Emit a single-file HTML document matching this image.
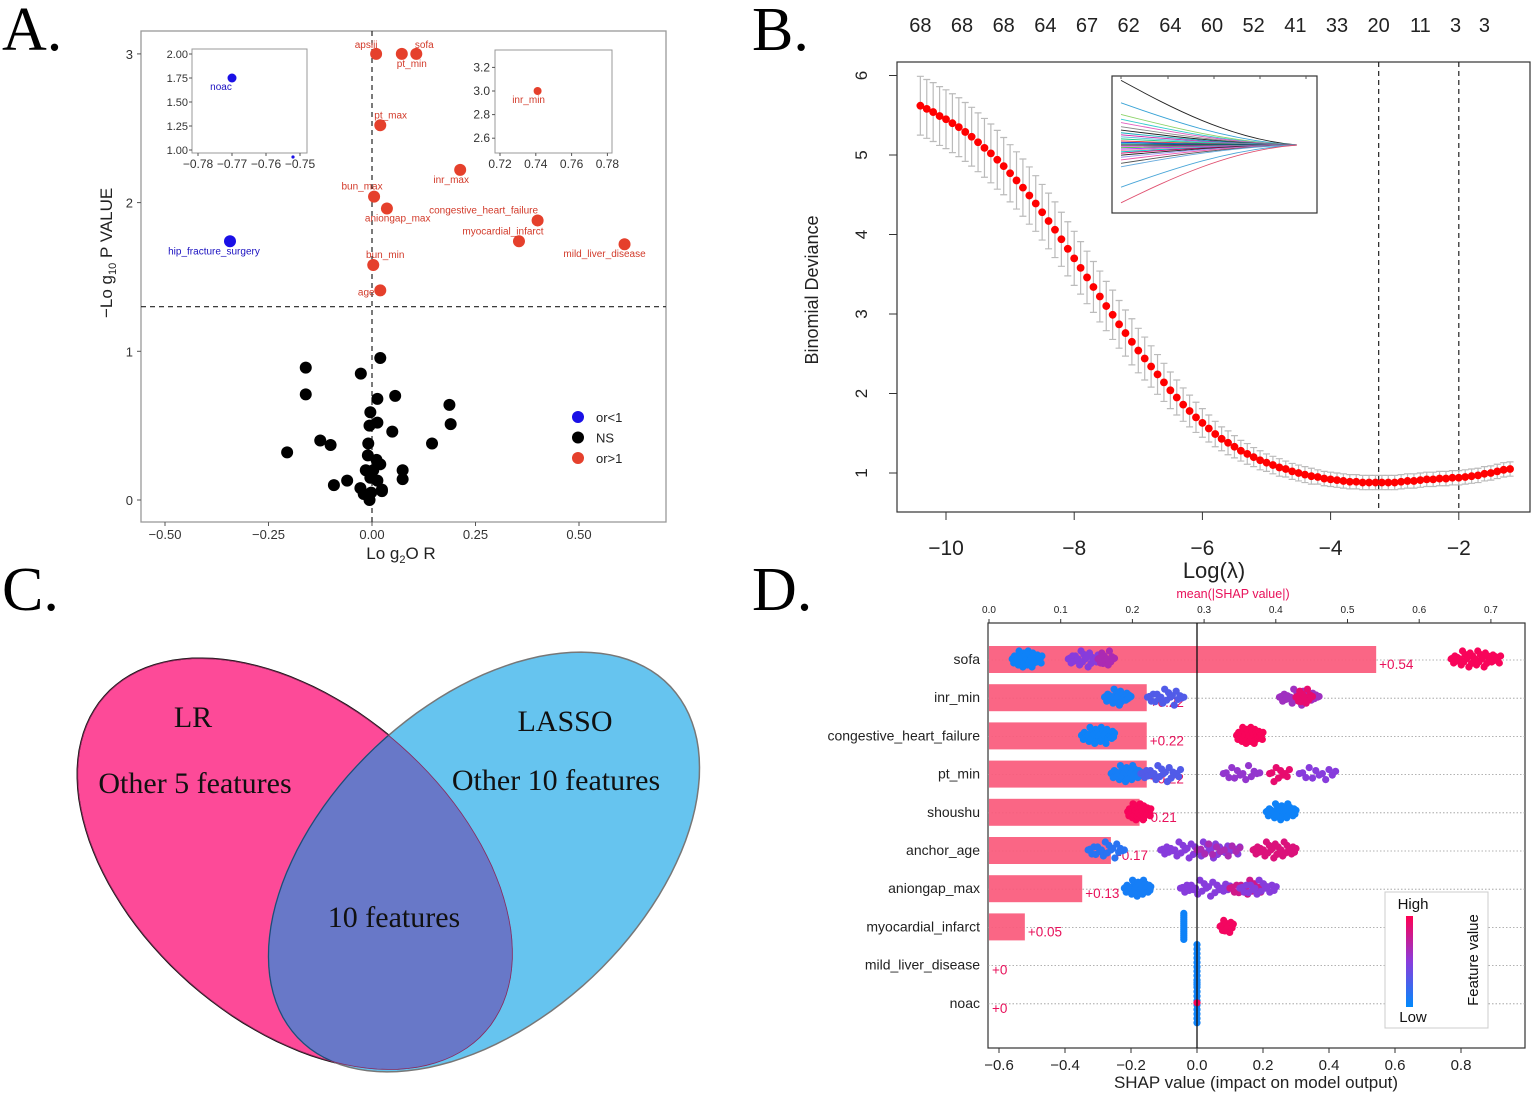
<!DOCTYPE html>
<html><head><meta charset="utf-8">
<style>
html,body{margin:0;padding:0;background:#fff;width:1535px;height:1098px;overflow:hidden;}
svg{display:block;width:1535px;height:1098px;}
.n{font-family:"Liberation Sans Narrow","Liberation Sans",sans-serif;}
.s{font-family:"Liberation Sans",sans-serif;}
.r{font-family:"Liberation Serif",serif;}
</style></head>
<body>
<svg id="fig" width="1535" height="1098" viewBox="0 0 1535 1098" xmlns="http://www.w3.org/2000/svg">
<g class="r" font-size="62" fill="#000">
<text x="2" y="50">A.</text>
<text x="752" y="50">B.</text>
<text x="2" y="610">C.</text>
<text x="752" y="610">D.</text>
</g>
<g id="pa"></g>
<g id="pb"></g>
<g id="pc"></g>
<g id="pd"></g>
</svg>
<script>
const NS="http://www.w3.org/2000/svg";
function mk(p,tag,attrs,txt){const e=document.createElementNS(NS,tag);for(const k in attrs)e.setAttribute(k,attrs[k]);if(txt!==undefined)e.textContent=txt;p.appendChild(e);return e;}

/* ---------- Panel A data ---------- */
const sigNames=["apsiii","pt_min","sofa","pt_max","inr_max","bun_max","aniongap_max","congestive_heart_failure","myocardial_infarct","mild_liver_disease","bun_min","age","hip_fracture_surgery"];
const sigLogOR=[0.01,0.072,0.107,0.02,0.213,0.005,0.036,0.40,0.355,0.61,0.003,0.02,-0.343];
const sigNegLogP=[3.0,3.0,3.0,2.52,2.22,2.04,1.96,1.88,1.74,1.72,1.58,1.41,1.74];
const sigGroup=["or>1","or>1","or>1","or>1","or>1","or>1","or>1","or>1","or>1","or>1","or>1","or>1","or<1"];
const nsLogOR=[-0.16,-0.16,-0.027,0.02,0.013,0.056,0.187,0.19,-0.004,-0.006,0.013,0.049,-0.125,-0.1,0.145,-0.205,-0.009,-0.01,0.011,0.02,-0.015,0.003,0.074,0.074,-0.004,0.013,-0.06,-0.092,-0.028,0.024,0.024,-0.02,-0.006,-0.002];
const nsNegLogP=[0.89,0.71,0.85,0.955,0.68,0.70,0.64,0.51,0.59,0.50,0.52,0.46,0.40,0.37,0.38,0.32,0.38,0.30,0.27,0.24,0.2,0.2,0.2,0.14,0.15,0.13,0.13,0.1,0.08,0.07,0.06,0.04,0.0,0.05];
const aXTicks=[-0.5,-0.25,0,0.25,0.5];
const aXTickLabels=["\u22120.50","\u22120.25","0.00","0.25","0.50"];
const aYTicks=[0,1,2,3];
const inset1YTicks=[1.00,1.25,1.50,1.75,2.00];
const inset1XTicks=[-0.78,-0.77,-0.76,-0.75];
const inset1Names=["noac"];const inset1X=[-0.77];const inset1Y=[1.75];
const inset2YTicks=[2.6,2.8,3.0,3.2];
const inset2XTicks=[0.72,0.74,0.76,0.78];
const inset2Names=["inr_min"];const inset2X=[0.741];const inset2Y=[3.0];

(function(){
const g=document.getElementById('pa');
const xA=v=>372+v*414, yA=v=>500-v*148.7;
const fr=mk(g,'rect',{x:141,y:31,width:525,height:491,fill:'none',stroke:'#999','stroke-width':1.3});

aXTicks.forEach((t,i)=>{mk(g,'line',{x1:xA(t),x2:xA(t),y1:522,y2:526,stroke:'#555'});
 const tx=mk(g,'text',{x:xA(t),y:539,'text-anchor':'middle','font-size':13,fill:'#333',class:'n'},aXTickLabels[i]);
 });
aYTicks.forEach(t=>{mk(g,'line',{x1:137,x2:141,y1:yA(t),y2:yA(t),stroke:'#555'});
 const tx=mk(g,'text',{x:133,y:yA(t)+5,'text-anchor':'end','font-size':13,fill:'#333',class:'n'},t);
 });
mk(g,'line',{x1:141,x2:666,y1:yA(1.3),y2:yA(1.3),stroke:'#222','stroke-dasharray':'5,4','stroke-width':1.2});
mk(g,'line',{x1:xA(0),x2:xA(0),y1:31,y2:522,stroke:'#222','stroke-dasharray':'5,4','stroke-width':1.2});
const xt=mk(g,'text',{x:401,y:559,'text-anchor':'middle','font-size':17,fill:'#222',class:'n'});
xt.innerHTML='Lo g<tspan font-size="11" dy="4">2</tspan><tspan dy="-4">O R</tspan>';

const yt=mk(g,'text',{transform:'translate(112,318) rotate(-90)','font-size':17,fill:'#222',class:'n'});
yt.innerHTML='\u2212Lo g<tspan font-size="11" dy="4">10</tspan><tspan dy="-4"> P VALUE</tspan>';

nsLogOR.forEach((v,i)=>{const c=mk(g,'circle',{cx:xA(v),cy:yA(nsNegLogP[i]),r:6,fill:'#000'});
 });
const off={apsiii:[-10,-6,'middle'],pt_min:[-5,13,'start'],sofa:[8,-6,'middle'],pt_max:[-6,-7,'start'],inr_max:[-9,13,'middle'],bun_max:[-12,-7,'middle'],aniongap_max:[-22,13,'start'],congestive_heart_failure:[-54,-7,'middle'],myocardial_infarct:[-16,-7,'middle'],mild_liver_disease:[-20,13,'middle'],bun_min:[12,-7,'middle'],age:[-14,5,'middle'],hip_fracture_surgery:[-16,13,'middle']};
sigLogOR.forEach((v,i)=>{const col=sigGroup[i]==='or<1'?'#1a10e6':'#e5402c';const cx=xA(v),cy=yA(sigNegLogP[i]);
 const c=mk(g,'circle',{cx:cx,cy:cy,r:6,fill:col});
 const o=off[sigNames[i]];
 const t=mk(g,'text',{x:cx+o[0],y:cy+o[1],'text-anchor':o[2],'font-size':10,fill:sigGroup[i]==='or<1'?'#1a10c0':'#d23a2a',class:'n'},sigNames[i]);
 });
const i1=mk(g,'g',{});
mk(i1,'rect',{x:192,y:49,width:115,height:104,fill:'#fff',stroke:'#999'});
const x1=v=>232+(v+0.77)*3400, y1=v=>150-(v-1)*96;
inset1YTicks.forEach(t=>{mk(i1,'line',{x1:189,x2:192,y1:y1(t),y2:y1(t),stroke:'#555'});mk(i1,'text',{x:188,y:y1(t)+4,'text-anchor':'end','font-size':11,fill:'#333',class:'n'},t.toFixed(2));});
inset1XTicks.forEach(t=>{mk(i1,'line',{x1:x1(t),x2:x1(t),y1:153,y2:156,stroke:'#555'});mk(i1,'text',{x:x1(t),y:168,'text-anchor':'middle','font-size':12,fill:'#333',class:'n'},'\u2212'+Math.abs(t).toFixed(2));});
inset1X.forEach((v,i)=>{mk(i1,'circle',{cx:x1(v),cy:y1(inset1Y[i]),r:4.5,fill:'#1a10e6'});mk(i1,'text',{x:x1(v)-11,y:y1(inset1Y[i])+12,'text-anchor':'middle','font-size':10,fill:'#1a10c0',class:'n'},inset1Names[i]);});
mk(i1,'circle',{cx:293,cy:157,r:1.6,fill:'#1a10e6'});
const i2=mk(g,'g',{});
mk(i2,'rect',{x:495,y:50,width:117,height:103,fill:'#fff',stroke:'#999'});
const x2=v=>500+(v-0.72)*1790, y2=v=>91-(v-3)*118;
inset2YTicks.forEach(t=>{mk(i2,'line',{x1:492,x2:495,y1:y2(t),y2:y2(t),stroke:'#555'});mk(i2,'text',{x:490,y:y2(t)+4,'text-anchor':'end','font-size':12,fill:'#333',class:'n'},t.toFixed(1));});
inset2XTicks.forEach(t=>{mk(i2,'line',{x1:x2(t),x2:x2(t),y1:153,y2:156,stroke:'#555'});mk(i2,'text',{x:x2(t),y:168,'text-anchor':'middle','font-size':12,fill:'#333',class:'n'},t.toFixed(2));});
inset2X.forEach((v,i)=>{mk(i2,'circle',{cx:x2(v),cy:y2(inset2Y[i]),r:4,fill:'#e5402c'});mk(i2,'text',{x:x2(v)-9,y:y2(inset2Y[i])+12,'text-anchor':'middle','font-size':10,fill:'#d23a2a',class:'n'},inset2Names[i]);});
const lg=mk(g,'g',{});
[['or<1','#1a10e6'],['NS','#000'],['or>1','#e5402c']].forEach((d,i)=>{mk(lg,'circle',{cx:578,cy:417+i*20.5,r:6,fill:d[1]});mk(lg,'text',{x:596,y:422+i*20.5,'font-size':13,fill:'#222',class:'n'},d[0]);});
})();

/* ---------- Panel B data ---------- */
const bLogLambdaStart=-10.4, bLogLambdaStep=0.1;
const bDeviance=[5.62,5.58,5.54,5.49,5.45,5.40,5.35,5.29,5.23,5.16,5.09,5.02,4.94,4.86,4.77,4.68,4.59,4.49,4.39,4.28,4.17,4.06,3.94,3.82,3.70,3.58,3.46,3.34,3.22,3.10,2.99,2.87,2.76,2.65,2.54,2.44,2.34,2.24,2.14,2.04,1.95,1.86,1.78,1.70,1.63,1.56,1.49,1.43,1.38,1.33,1.28,1.24,1.20,1.16,1.13,1.10,1.07,1.05,1.02,1.00,0.98,0.96,0.95,0.93,0.92,0.91,0.90,0.89,0.89,0.88,0.88,0.88,0.88,0.88,0.88,0.89,0.90,0.90,0.91,0.92,0.92,0.93,0.93,0.94,0.94,0.95,0.96,0.97,0.99,1.00,1.02,1.04,1.05];
const bSE=[0.37,0.37,0.37,0.37,0.37,0.37,0.37,0.37,0.37,0.37,0.37,0.37,0.37,0.36,0.36,0.36,0.36,0.36,0.35,0.35,0.35,0.35,0.34,0.34,0.34,0.33,0.33,0.32,0.32,0.31,0.31,0.30,0.29,0.29,0.28,0.27,0.26,0.25,0.24,0.23,0.22,0.21,0.20,0.19,0.18,0.17,0.16,0.15,0.15,0.14,0.13,0.13,0.12,0.12,0.11,0.11,0.11,0.10,0.10,0.10,0.10,0.10,0.09,0.09,0.09,0.09,0.09,0.09,0.09,0.09,0.09,0.09,0.09,0.09,0.09,0.09,0.09,0.09,0.09,0.09,0.09,0.09,0.09,0.09,0.09,0.09,0.09,0.09,0.09,0.09,0.09,0.09,0.09];
const bNonzero=["68","68","68","64","67","62","64","60","52","41","33","20","11","3","3"];
const bNonzeroAt=[-10.4,-9.75,-9.1,-8.45,-7.8,-7.15,-6.5,-5.85,-5.2,-4.55,-3.9,-3.25,-2.6,-2.05,-1.6];
const bXTicks=[-10,-8,-6,-4,-2];
const bYTicks=[1,2,3,4,5,6];
const bLambdaMin=-3.25, bLambda1se=-2.0;
const bCoefStart=[-0.95,-0.62,-0.45,-0.38,-0.33,-0.27,-0.22,-0.18,-0.15,-0.12,-0.09,-0.06,-0.04,-0.02,0,0.02,0.04,0.06,0.08,0.1,0.12,0.15,0.18,0.22,0.27,0.32,0.62,0.85];
const bCoefColors=["#222","#39a3d6","#8dd36a","#3cc","#e060c0","#888","#222","#1ab","#c2a","#5bd","#2c8","#e33","#13c","#0aa","#222","#d4d","#4b4","#a3e","#e8a","#0cc","#c06","#222","#99e","#e5a","#555","#6ad","#4aa6d8","#e05070"];

(function(){
const g=document.getElementById('pb');
const xB=v=>946+(v+10)*64.1, yB=v=>473-(v-1)*79.5;
const fr=mk(g,'rect',{x:897,y:62,width:633,height:450,fill:'none',stroke:'#333','stroke-width':1.2});

bXTicks.forEach(t=>{mk(g,'line',{x1:xB(t),x2:xB(t),y1:512,y2:520,stroke:'#333'});
 const tx=mk(g,'text',{x:xB(t),y:555,'text-anchor':'middle','font-size':21,fill:'#222',class:'n'},'\u2212'+Math.abs(t));
 });
bYTicks.forEach(t=>{mk(g,'line',{x1:889,x2:897,y1:yB(t),y2:yB(t),stroke:'#333'});
 const tx=mk(g,'text',{transform:`translate(867,${yB(t)}) rotate(-90)`,'text-anchor':'middle','font-size':17,fill:'#222',class:'s'},t);
 });
bNonzero.forEach((s,i)=>{const tx=mk(g,'text',{x:xB(bNonzeroAt[i]),y:32,'text-anchor':'middle','font-size':20,fill:'#222',class:'n'},s);
 });
const yt=mk(g,'text',{transform:'translate(818,290) rotate(-90)','text-anchor':'middle','font-size':18,fill:'#222',class:'s'},'Binomial Deviance');

const xt=mk(g,'text',{x:1214,y:578,'text-anchor':'middle','font-size':22,fill:'#222',class:'n'},'Log(\u03bb)');

[bLambdaMin,bLambda1se].forEach(l=>{const ln=mk(g,'line',{x1:xB(l),x2:xB(l),y1:62,y2:512,stroke:'#222','stroke-dasharray':'5,4','stroke-width':1.2});
 });
bDeviance.forEach((d,i)=>{const l=bLogLambdaStart+i*bLogLambdaStep;const x=xB(l);
 const eb=mk(g,'path',{d:`M${x},${yB(d+bSE[i])}V${yB(d-bSE[i])}M${x-3.5},${yB(d+bSE[i])}H${x+3.5}M${x-3.5},${yB(d-bSE[i])}H${x+3.5}`,stroke:'#bbb','stroke-width':1.2,fill:'none'});
 });
bDeviance.forEach((d,i)=>{const l=bLogLambdaStart+i*bLogLambdaStep;
 const c=mk(g,'circle',{cx:xB(l),cy:yB(d),r:3.9,fill:'#f00'});});
const ins=mk(g,'g',{});
mk(ins,'rect',{x:1112,y:76,width:205,height:137,fill:'#fff',stroke:'#333','stroke-width':1.2});
[1121,1168,1214,1260,1306].forEach(x=>mk(ins,'line',{x1:x,x2:x,y1:76,y2:79,stroke:'#555'}));
const cy0=145;
bCoefStart.forEach((v,i)=>{const y0=cy0+v*68;
 const p=mk(ins,'path',{d:`M1121,${y0} C1170,${cy0+v*40} 1230,${cy0+v*6} 1297,${cy0}`,fill:'none',stroke:bCoefColors[i],'stroke-width':0.9});
 });
})();

/* ---------- Panel C ---------- */
(function(){
const g=document.getElementById('pc');
function ell(cx,cy,rx,ry,deg){const th=deg*Math.PI/180,c=Math.cos(th),s=Math.sin(th);let d='';
 for(let k=0;k<=120;k++){const t=k/120*2*Math.PI;const ex=rx*Math.cos(t),ey=ry*Math.sin(t);
  const x=cx+ex*c-ey*s,y=cy+ex*s+ey*c;d+=(k?'L':'M')+x.toFixed(1)+','+y.toFixed(1);}return d+'Z';}
const pd=ell(295,864,254,159,41.3), bd=ell(484,862,256,158,-43.3);
const defs=mk(g,'defs',{});
const cp=mk(defs,'clipPath',{id:'clipPink'});
mk(cp,'path',{d:pd});
const pk=mk(g,'path',{d:pd,fill:'#fd4a98',stroke:'#111','stroke-width':1.5});

const bl=mk(g,'path',{d:bd,fill:'#66c4ef',stroke:'#777','stroke-width':1.5});

const og=mk(g,'g',{'clip-path':'url(#clipPink)'});
const ov=mk(og,'path',{d:bd,fill:'#6878c8',stroke:'#1d4a7a','stroke-width':1.2});

mk(og,'path',{d:pd,fill:'none',stroke:'#8a2a5a','stroke-width':1.6});
[['LR',193,727,'lr-label'],['Other 5 features',195,793,'lr-count'],['LASSO',565,731,'lasso-label'],['Other 10 features',556,790,'lasso-count'],['10 features',394,927,'overlap-count']].forEach(d=>{
 const t=mk(g,'text',{x:d[1],y:d[2],'text-anchor':'middle','font-size':30,fill:'#111',class:'r'},d[0]);});
})();

/* ---------- Panel D data ---------- */
const dFeatures=["sofa","inr_min","congestive_heart_failure","pt_min","shoushu","anchor_age","aniongap_max","myocardial_infarct","mild_liver_disease","noac"];
const dMeanAbs=[0.54,0.22,0.22,0.22,0.21,0.17,0.13,0.05,0,0];
const dMeanLabels=["+0.54","+0.22","+0.22","+0.22","+0.21","+0.17","+0.13","+0.05","+0","+0"];
const clRow=[0,0,0,0,1,1,1,1,2,2,3,3,3,3,3,4,4,5,5,5,5,6,6,6,6,7,7,8,9,9];
const clLo=[-0.56,-0.39,-0.30,0.77,-0.28,-0.15,0.25,0.30,-0.35,0.12,-0.26,-0.17,0.08,0.22,0.31,-0.21,0.21,-0.33,-0.11,0.0,0.17,-0.22,-0.05,0.10,0.13,-0.04,0.07,0,0,0];
const clHi=[-0.47,-0.30,-0.25,0.92,-0.20,-0.04,0.37,0.35,-0.25,0.20,-0.17,-0.05,0.19,0.28,0.42,-0.14,0.30,-0.22,0.13,0.13,0.30,-0.14,0.1,0.2,0.24,-0.04,0.11,0,0,0];
const clN=[40,22,14,40,26,20,26,14,36,40,30,22,14,10,12,40,30,20,40,12,30,30,24,16,18,14,12,10,10,1];
const clVal=[0.05,0.5,0.65,0.97,0.08,0.3,0.6,0.9,0.05,0.97,0.08,0.3,0.55,0.9,0.5,0.97,0.05,0.15,0.5,0.65,0.85,0.08,0.5,0.8,0.5,0.05,0.95,0.05,0.05,0.98];
const dXTicks=[-0.6,-0.4,-0.2,0,0.2,0.4,0.6,0.8];
const dTopTicks=[0,0.1,0.2,0.3,0.4,0.5,0.6,0.7];

(function(){
const g=document.getElementById('pd');
const xD=v=>1197+v*330, xT=v=>989+v*717, yRow=i=>659+i*38.2;
const fr=mk(g,'rect',{x:988,y:623,width:537,height:425,fill:'none',stroke:'#333','stroke-width':1.2});

dFeatures.forEach((f,i)=>{mk(g,'line',{x1:988,x2:1525,y1:yRow(i)+1,y2:yRow(i)+1,stroke:'#999','stroke-dasharray':'1.5,2','stroke-width':0.8});
 const t=mk(g,'text',{x:980,y:yRow(i)+5,'text-anchor':'end','font-size':14,fill:'#222',class:'n'},f);
 });
dMeanAbs.forEach((m,i)=>{if(m>0){const b=mk(g,'rect',{x:989,y:yRow(i)-13,width:xT(m)-989,height:27,fill:'#fa5a7c','fill-opacity':0.93});
 }
 const t=mk(g,'text',{x:(m>0?xT(m)+3:992),y:yRow(i)+10,'font-size':13.5,fill:'#e8105a',class:'n'},dMeanLabels[i]);
 });
function col(v){const a=[0,138,251],m=[135,60,220],b=[255,0,82];let c;
 if(v<0.5){const t=v/0.5;c=a.map((x,k)=>Math.round(x+(m[k]-x)*t));}else{const t=(v-0.5)/0.5;c=m.map((x,k)=>Math.round(x+(b[k]-x)*t));}
 return `rgb(${c[0]},${c[1]},${c[2]})`;}
const jit=[0,-3,3,-6,6,-1.5,1.5,-4.5,4.5,-8,8,0];
clRow.forEach((r,ci)=>{const n=clN[ci];const w=clHi[ci]-clLo[ci];for(let k=0;k<n;k++){const f=n>1?k/(n-1):0.5;
 const s=clLo[ci]+w*f;const mid=Math.abs(f-0.5)<0.3?1:0.5;
 let dy=jit[(k*5)%jit.length]*mid;
 if(w<0.01)dy=(f-0.5)*(r===7?26:40);
 const c=mk(g,'circle',{cx:xD(s),cy:yRow(r)+dy,r:3.6,fill:col(clVal[ci])});
 }});
mk(g,'line',{x1:xD(0),x2:xD(0),y1:623,y2:1048,stroke:'#111','stroke-width':1.3});
dXTicks.forEach(t=>{mk(g,'line',{x1:xD(t),x2:xD(t),y1:1048,y2:1053,stroke:'#333'});
 const tx=mk(g,'text',{x:xD(t),y:1070,'text-anchor':'middle','font-size':15,fill:'#222',class:'s'},(t<0?'\u2212':'')+Math.abs(t).toFixed(1));
 });
dTopTicks.forEach(t=>{mk(g,'line',{x1:xT(t),x2:xT(t),y1:619,y2:623,stroke:'#333'});
 const tx=mk(g,'text',{x:xT(t),y:613,'text-anchor':'middle','font-size':10,fill:'#222',class:'n'},t.toFixed(1));
 });
const tt=mk(g,'text',{x:1233,y:598,'text-anchor':'middle','font-size':12.5,fill:'#e8105a',class:'n'},'mean(|SHAP value|)');

const xt=mk(g,'text',{x:1256,y:1088,'text-anchor':'middle','font-size':17,fill:'#222',class:'s'},'SHAP value (impact on model output)');

const lg=mk(g,'g',{});
mk(lg,'rect',{x:1385,y:892,width:103,height:136,fill:'#fff',stroke:'#ccc'});
const gd=mk(mk(g,'defs',{}),'linearGradient',{id:'fv',x1:0,y1:0,x2:0,y2:1});
mk(gd,'stop',{offset:'0','stop-color':'#ff0052'});mk(gd,'stop',{offset:'0.5','stop-color':'#8a3cdc'});mk(gd,'stop',{offset:'1','stop-color':'#008afb'});
mk(lg,'rect',{x:1406,y:916,width:7,height:91,fill:'url(#fv)'});
mk(lg,'text',{x:1413,y:909,'text-anchor':'middle','font-size':15,fill:'#111',class:'s'},'High');
mk(lg,'text',{x:1413,y:1022,'text-anchor':'middle','font-size':15,fill:'#111',class:'s'},'Low');
mk(lg,'text',{transform:'translate(1478,960) rotate(-90)','text-anchor':'middle','font-size':15,fill:'#111',class:'s'},'Feature value');
})();
</script>
</body></html>
